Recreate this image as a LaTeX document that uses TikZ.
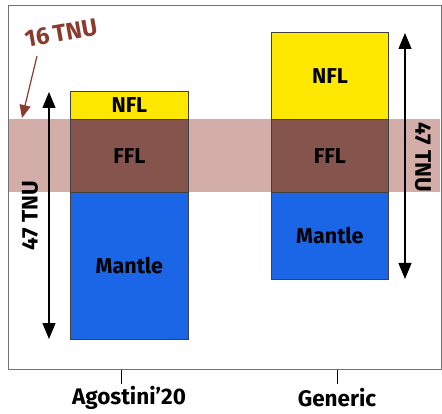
\documentclass[tikz,border=0pt]{standalone}
\usepackage{fontspec}
\setmainfont{Fira Sans}[BoldFont={Fira Sans Bold}]
\usetikzlibrary{arrows.meta}
\definecolor{nflc}{HTML}{FFE800}
\definecolor{fflc}{HTML}{85544D}
\definecolor{manc}{HTML}{1A66E6}
\definecolor{bandc}{HTML}{D3ADA8}
\definecolor{redc}{HTML}{8B3A2E}
\tikzset{
  layer/.style={draw=black!75, line width=0.8pt, inner sep=0pt, font=\bfseries\fontsize{21.5}{22}\selectfont},
  dim/.style={line width=1.2pt, {Triangle[length=16pt,width=13pt]}-{Triangle[length=16pt,width=13pt]}},
  lab/.style={font=\bfseries\fontsize{22.5}{23}\selectfont},
}
\begin{document}
\begin{tikzpicture}[x=1pt,y=-1pt]
\useasboundingbox (0,0) rectangle (442,414);
% frame
\draw[black!55, line width=1pt] (8,6) rectangle (441,369);
% band
\fill[bandc] (9,119) rectangle (440,192);
% left column
\node[layer, fill=nflc, minimum width=118pt, minimum height=28pt, anchor=north west] (nfl1) at (70,91) {NFL};
\node[layer, fill=fflc, minimum width=118pt, minimum height=73pt, anchor=north west] (ffl1) at (70,119) {FFL};
\node[layer, fill=manc, minimum width=118pt, minimum height=147pt, anchor=north west] (man1) at (70,192) {Mantle};
% right column
\node[layer, fill=nflc, minimum width=117pt, minimum height=87pt, anchor=north west] (nfl2) at (271,32) {NFL};
\node[layer, fill=fflc, minimum width=117pt, minimum height=73pt, anchor=north west] (ffl2) at (271,119) {FFL};
\node[layer, fill=manc, minimum width=117pt, minimum height=87pt, anchor=north west] (man2) at (271,192) {Mantle};
% arrows
\coordinate (a1t) at (49,92);
\coordinate (a1b) at (49,339);
\draw[dim] (a1t) -- (a1b);
\node[lab, rotate=90] (t1) at (30,216) {47 TNU};
\coordinate (a2t) at (405,33);
\coordinate (a2b) at (405,279);
\draw[dim] (a2t) -- (a2b);
\node[lab, rotate=-90] (t2) at (423,157) {47 TNU};
% 16 TNU
\node[lab, text=redc, rotate=10, inner sep=0pt, font=\bfseries\fontsize{24}{24}\selectfont] (t16) at (61,33) {16\,TNU};
\coordinate (r0) at (37,56);
\coordinate (r1) at (22,118);
\draw[redc, line width=1.2pt, -{Triangle[length=13pt,width=11pt]}] (r0) -- (r1);
% ticks and labels
\draw[black, line width=1pt] (121,370) -- (121,384);
\draw[black, line width=1pt] (337,370) -- (337,384);
\node[lab] (xa) at (129,398) {Agostini’20};
\node[lab] (xg) at (337,398) {Generic};
\end{tikzpicture}
\end{document}
